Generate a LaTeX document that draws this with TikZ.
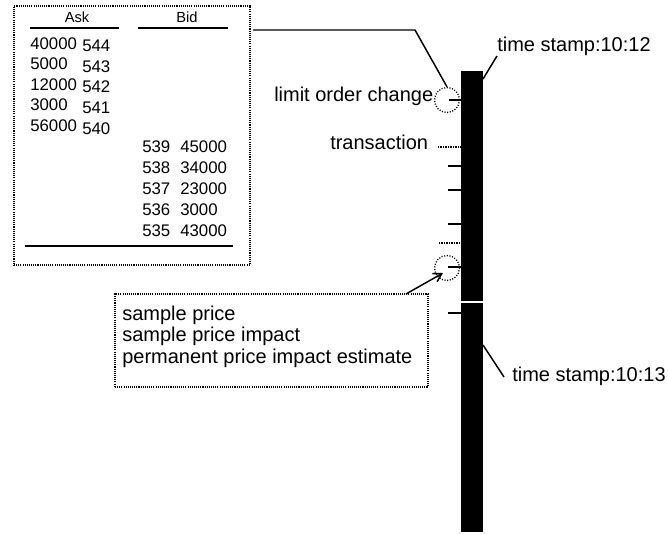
\documentclass[tikz,border=0pt]{standalone}
\usepackage{fontspec}
\setmainfont{Liberation Sans}
\usetikzlibrary{arrows.meta}
\tikzset{
  dotbox/.style={draw, line width=0.9pt, dash pattern=on 0.8pt off 0.8pt, inner sep=0pt},
  lbl/.style={inner sep=0pt, anchor=mid west, font=\fontsize{15}{18}\selectfont},
  num/.style={inner sep=0pt, anchor=mid west, font=\fontsize{12.6}{14}\selectfont},
  hdr/.style={inner sep=0pt, anchor=mid, font=\fontsize{11}{13}\selectfont},
  tick/.style={line width=1.1pt},
  dtick/.style={line width=1.1pt, dash pattern=on 0.75pt off 0.5pt},
  conn/.style={line width=1.1pt},
  ring/.style={circle, draw, line width=1pt, dash pattern=on 0.8pt off 1.2pt, minimum size=18.75pt, inner sep=0pt},
}
\begin{document}
\begin{tikzpicture}[x=0.75pt,y=-0.75pt]
\useasboundingbox (0,0) rectangle (668,533);
% order book box
\node[dotbox, minimum width=177pt, minimum height=194.25pt] (book) at (132,135.5) {};
\node[hdr] (askh) at (77,19) {Ask};
\node[hdr] (bidh) at (187,19) {Bid};
\draw[line width=1.1pt] (30,28) -- (119,28);
\draw[line width=1.1pt] (138,28) -- (228,28);
\draw[line width=1.1pt] (25,246) -- (233,246);
% ask rows
\node[num] (q1) at (30,45.5) {40000};  \node[num] (p1) at (82,48) {544};
\node[num] (q2) at (30,66) {5000};     \node[num] (p2) at (82,68.5) {543};
\node[num] (q3) at (30,86.5) {12000};  \node[num] (p3) at (82,89) {542};
\node[num] (q4) at (30,107) {3000};    \node[num] (p4) at (82,110) {541};
\node[num] (q5) at (30,128) {56000};   \node[num] (p5) at (82,130.5) {540};
% bid rows
\node[num] (b1) at (142,149) {539}; \node[num] (v1) at (180,149) {45000};
\node[num] (b2) at (142,170) {538}; \node[num] (v2) at (180,170) {34000};
\node[num] (b3) at (142,191) {537}; \node[num] (v3) at (180,191) {23000};
\node[num] (b4) at (142,212) {536}; \node[num] (v4) at (180,212) {3000};
\node[num] (b5) at (142,233) {535}; \node[num] (v5) at (180,233) {43000};
% time bar
\node[fill=black, inner sep=0pt, minimum width=16.5pt, minimum height=345.75pt] (bar) at (472,301.5) {};
\draw[white, line width=1.1pt] (461,302) -- (483,302);
% rings
\node[ring] (lc) at (447,100) {};
\node[ring] (sc) at (447,268) {};
% ticks
\draw[tick] (449,100) -- (461,100);
\draw[dtick] (438,147) -- (461,147);
\draw[tick] (448,166) -- (461,166);
\draw[tick] (448,190) -- (461,190);
\draw[tick] (448,224) -- (461,224);
\draw[dtick] (439,243) -- (461,243);
\draw[tick] (448,267) -- (461,267);
\draw[tick] (448,313) -- (461,313);
% labels
\node[lbl] (loc) at (274,98) {limit order change};
\node[lbl] (tr) at (330,146) {transaction};
\node[lbl] (ts1) at (497,48) {time stamp:10:12};
\node[lbl] (ts2) at (512,378) {time stamp:10:13};
\draw[conn] (483,79) -- (ts1.south west);
\coordinate (t2a) at (483,345);
\draw[conn] (t2a) -- (504,377);
% sample box
\node[dotbox, minimum width=234.75pt, minimum height=69.75pt] (sp) at (271.5,340.5) {};
\node[lbl] (s1) at (122,317) {sample price};
\node[lbl] (s2) at (122,338) {sample price impact};
\node[lbl] (s3) at (122,360) {permanent price impact estimate};
% connectors
\coordinate (k1) at (253,30);
\coordinate (k2) at (415,30);
\draw[conn] (k1) -- (k2) -- (lc.north);
\coordinate (a0) at (406,294);
\coordinate (a1) at (443,273);
\draw[conn, -{Straight Barb[length=6pt, width=7pt]}] (a0) -- (a1);
\end{tikzpicture}
\end{document}
